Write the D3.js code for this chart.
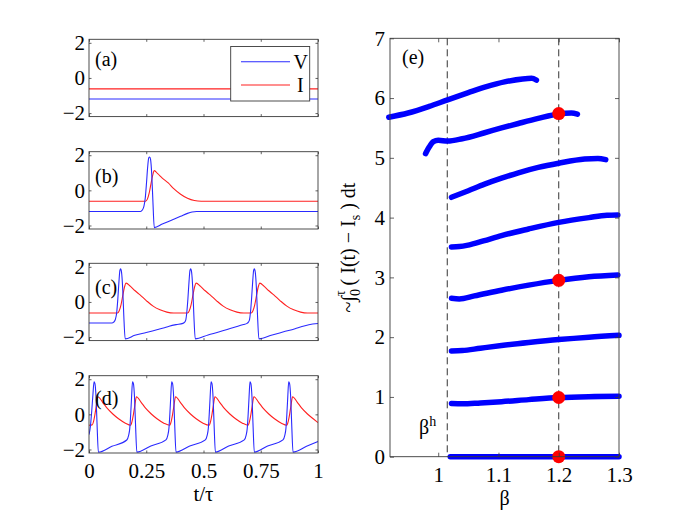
<!DOCTYPE html>
<html>
<head>
<meta charset="utf-8">
<script src="https://cdn.jsdelivr.net/npm/d3@7/dist/d3.min.js"></script>
<style>
  html, body { margin: 0; padding: 0; background: #fff; }
  svg { display: block; }
  svg text { font-family: "Liberation Serif", "Times New Roman", Tinos, "DejaVu Serif", serif !important; fill: #000; }
</style>
</head>
<body>
<svg id="chart" width="685" height="514"></svg>
<script>
// ---------------- DATA ----------------
// Left panels: time t/τ vs V (blue) and I (red)
const vA = [[0,-1.2],[1,-1.2]];
const iA = [[0,-0.62],[1,-0.62]];

const vB = [[0,-1.2],[0.225,-1.2],[0.233,-1.12],[0.240,-0.9],[0.246,-0.4],[0.251,0.4],[0.256,1.3],[0.261,1.85],[0.265,1.9],[0.269,1.75],[0.274,0.9],[0.279,-0.6],[0.285,-2.12],[0.32,-1.92],[0.36,-1.7],[0.40,-1.48],[0.43,-1.31],[0.45,-1.23],[0.47,-1.2],[1,-1.2]];
const iB = [[0,-0.62],[0.247,-0.62],[0.255,-0.5],[0.263,-0.15],[0.271,0.4],[0.278,0.85],[0.285,1.12],[0.30,0.95],[0.32,0.7],[0.346,0.42],[0.37,0.1],[0.40,-0.22],[0.43,-0.45],[0.46,-0.58],[0.49,-0.62],[1,-0.62]];

const vC = [[0,-1.2],[0.10,-1.2],[0.108,-1.15],[0.115,-1.0],[0.121,-0.6],[0.126,0.2],[0.131,1.2],[0.135,1.8],[0.138,1.88],[0.142,1.7],[0.147,0.8],[0.152,-0.8],[0.158,-2.1],
  [0.20,-1.9],[0.25,-1.74],[0.30,-1.57],[0.325,-1.48],[0.35,-1.38],[0.38,-1.29],[0.41,-1.22],
  [0.418,-1.15],[0.423,-1.0],[0.427,-0.6],[0.432,0.2],[0.437,1.2],[0.441,1.8],[0.444,1.88],[0.448,1.7],[0.453,0.8],[0.458,-0.8],[0.464,-2.1],
  [0.52,-1.88],[0.57,-1.7],[0.62,-1.5],[0.65,-1.38],[0.675,-1.28],[0.69,-1.22],
  [0.696,-1.15],[0.701,-1.0],[0.705,-0.6],[0.710,0.2],[0.715,1.2],[0.719,1.8],[0.722,1.88],[0.726,1.7],[0.731,0.8],[0.736,-0.8],[0.742,-2.1],
  [0.80,-1.88],[0.85,-1.7],[0.90,-1.52],[0.93,-1.4],[0.96,-1.3],[1,-1.23]];
const iC = [[0,-0.63],[0.124,-0.63],[0.132,-0.5],[0.140,-0.15],[0.148,0.4],[0.155,0.85],[0.162,1.07],[0.18,0.9],[0.20,0.65],[0.223,0.4],[0.25,0.08],[0.28,-0.24],[0.31,-0.45],[0.34,-0.58],[0.37,-0.63],
  [0.43,-0.63],[0.438,-0.5],[0.446,-0.15],[0.454,0.4],[0.461,0.85],[0.468,1.07],[0.486,0.9],[0.506,0.65],[0.529,0.4],[0.556,0.08],[0.586,-0.24],[0.616,-0.45],[0.646,-0.58],[0.676,-0.63],
  [0.708,-0.63],[0.716,-0.5],[0.724,-0.15],[0.732,0.4],[0.739,0.85],[0.746,1.07],[0.764,0.9],[0.784,0.65],[0.807,0.4],[0.834,0.08],[0.864,-0.24],[0.894,-0.45],[0.924,-0.58],[0.954,-0.63],[1,-0.63]];

const vD = [[0,-1.15],[0.006,-0.7],[0.012,0.2],[0.017,1.1],[0.022,1.85],[0.026,1.75],[0.031,0.9],[0.035,-0.5],[0.041,-2.15],[0.10,-1.82],
  [0.165,-1.46],[0.173,-1.2],[0.178,-0.8],[0.182,0],[0.186,1.0],[0.190,1.85],[0.194,1.75],[0.199,0.9],[0.203,-0.5],[0.209,-2.15],[0.27,-1.8],
  [0.336,-1.45],[0.344,-1.2],[0.349,-0.8],[0.353,0],[0.357,1.0],[0.361,1.85],[0.365,1.75],[0.370,0.9],[0.374,-0.5],[0.380,-2.15],[0.44,-1.8],
  [0.508,-1.45],[0.516,-1.2],[0.521,-0.8],[0.525,0],[0.529,1.0],[0.533,1.85],[0.537,1.75],[0.542,0.9],[0.546,-0.5],[0.552,-2.15],[0.61,-1.8],
  [0.678,-1.45],[0.686,-1.2],[0.691,-0.8],[0.695,0],[0.699,1.0],[0.703,1.85],[0.707,1.75],[0.712,0.9],[0.716,-0.5],[0.722,-2.15],[0.78,-1.8],
  [0.847,-1.45],[0.855,-1.2],[0.860,-0.8],[0.864,0],[0.868,1.0],[0.872,1.85],[0.876,1.75],[0.881,0.9],[0.885,-0.5],[0.891,-2.15],[0.95,-1.82],[1,-1.55]];
const iD = [[0,-0.62],[0.014,-0.6],[0.020,-0.4],[0.026,0],[0.032,0.5],[0.039,1.0],[0.059,0.7],[0.079,0.35],[0.104,0.02],[0.129,-0.25],[0.159,-0.5],[0.182,-0.62],
  [0.188,-0.4],[0.194,0],[0.200,0.5],[0.207,1.0],[0.227,0.7],[0.247,0.35],[0.272,0.02],[0.297,-0.25],[0.327,-0.5],[0.353,-0.62],
  [0.359,-0.4],[0.365,0],[0.371,0.5],[0.378,1.0],[0.398,0.7],[0.418,0.35],[0.443,0.02],[0.468,-0.25],[0.498,-0.5],[0.525,-0.62],
  [0.531,-0.4],[0.537,0],[0.543,0.5],[0.550,1.0],[0.570,0.7],[0.590,0.35],[0.615,0.02],[0.640,-0.25],[0.670,-0.5],[0.695,-0.62],
  [0.701,-0.4],[0.707,0],[0.713,0.5],[0.720,1.0],[0.740,0.7],[0.760,0.35],[0.785,0.02],[0.810,-0.25],[0.840,-0.5],[0.864,-0.62],
  [0.870,-0.4],[0.876,0],[0.882,0.5],[0.889,1.0],[0.909,0.7],[0.929,0.35],[0.954,0.02],[0.979,-0.25],[1,-0.47]];

const panelLabels = ["(a)", "(b)", "(c)", "(d)"];
const leftXTicks = [0, 0.25, 0.5, 0.75, 1];
const leftXTickLabels = ["0", "0.25", "0.5", "0.75", "1"];
const leftYTicks = [-2, 0, 2];
const legendNames = ["V", "I"];

// Right panel (e): β vs ~∫(I(t) − I_s)dt, branches
const branch0 = [[1.02,0],[1.1,0],[1.2,0],[1.3,0]];
const branch1 = [[1.022,0.89],[1.04,0.885],[1.07,0.9],[1.105,0.92],[1.15,0.955],[1.2,0.99],[1.25,1.005],[1.3,1.01]];
const branch2 = [[1.022,1.77],[1.04,1.775],[1.07,1.815],[1.105,1.86],[1.15,1.91],[1.2,1.96],[1.25,2.0],[1.3,2.03]];
const branch3 = [[1.022,2.65],[1.035,2.64],[1.06,2.69],[1.105,2.785],[1.15,2.87],[1.2,2.95],[1.25,3.01],[1.298,3.04]];
const branch4 = [[1.022,3.51],[1.035,3.515],[1.05,3.54],[1.075,3.61],[1.105,3.70],[1.15,3.81],[1.2,3.92],[1.25,4.0],[1.28,4.04],[1.298,4.045]];
const branch5 = [[1.022,4.34],[1.05,4.45],[1.077,4.56],[1.105,4.66],[1.133,4.75],[1.166,4.84],[1.2,4.91],[1.243,4.98],[1.265,4.99],[1.278,4.97]];
const branch6 = [[0.979,5.07],[0.985,5.18],[0.992,5.27],[1.0,5.295],[1.0156,5.28],[1.04,5.32],[1.077,5.42],[1.105,5.5],[1.133,5.575],[1.166,5.66],[1.2,5.735],[1.221,5.75],[1.231,5.73]];
const branch7 = [[0.918,5.68],[0.95,5.75],[0.985,5.86],[1.0156,5.97],[1.05,6.09],[1.08,6.19],[1.11,6.27],[1.14,6.32],[1.155,6.33],[1.163,6.3]];
const redDots = [[1.2,0],[1.2,0.99],[1.2,2.95],[1.2,5.74]];
const dashedBetas = [1.015, 1.2];
const rightXTicks = [1, 1.1, 1.2, 1.3];
const rightYTicks = [0,1,2,3,4,5,6,7];

// ---------------- DRAW ----------------
const SERIF = '"Liberation Serif", "Times New Roman", Tinos, "DejaVu Serif", serif';
const svg = d3.select("#chart");
svg.append("rect").attr("width",685).attr("height",514).attr("fill","#fff");
const axisColor = "#3a3a3a";
const FONT = 21;
const LFONT = 20;

function styleAxis(g) {
  g.attr("font-family", SERIF);
  g.select(".domain").remove();
  g.selectAll(".tick line").attr("stroke", axisColor).attr("stroke-width", 0.8);
  g.selectAll(".tick text").attr("font-size", FONT).style("font-family", SERIF).attr("fill", "#000");
}

function drawFrame(x, y, xTicks, yTicks, tickLen, opts) {
  const [x0, x1] = x.range();
  const [y0, y1] = y.range();
  const g = svg.append("g");
  const bAx = d3.axisBottom(x).tickValues(xTicks).tickSizeInner(-tickLen).tickSizeOuter(0).tickPadding(opts.xPad);
  if (opts.xLabels) bAx.tickFormat((d,i) => opts.xLabels[i]); else bAx.tickFormat("");
  g.append("g").attr("transform", `translate(0,${y0})`).call(bAx).call(styleAxis);
  g.append("g").attr("transform", `translate(0,${y1})`)
    .call(d3.axisTop(x).tickValues(xTicks).tickSizeInner(-tickLen).tickSizeOuter(0).tickFormat(""))
    .call(styleAxis);
  g.append("g").attr("transform", `translate(${x0},0)`)
    .call(d3.axisLeft(y).tickValues(yTicks).tickSizeInner(-tickLen).tickSizeOuter(0).tickPadding(opts.yPad).tickFormat(d3.format("d")))
    .call(styleAxis);
  g.append("g").attr("transform", `translate(${x1},0)`)
    .call(d3.axisRight(y).tickValues(yTicks).tickSizeInner(-tickLen).tickSizeOuter(0).tickFormat(""))
    .call(styleAxis);
  g.append("rect").attr("x", x0).attr("y", y1).attr("width", x1 - x0).attr("height", y0 - y1)
    .attr("fill", "none").attr("stroke", axisColor).attr("stroke-width", 0.9);
}

function addText(x, y, str, size, anchor) {
  return svg.append("text").attr("x", x).attr("y", y).attr("font-size", size)
    .attr("text-anchor", anchor || "start").style("font-family", SERIF).text(str);
}

// Left panels
const lx = d3.scaleLinear().domain([0, 1]).range([89, 318]);
const panelTops = [39.3, 151.7, 263.3, 375.7];
const panelH = 77.3;
const leftSeries = [[vA, iA], [vB, iB], [vC, iC], [vD, iD]];
const labelBaselines = [66, 182.5, 294, 405];

leftSeries.forEach(([vs, is], k) => {
  const top = panelTops[k];
  const ly = d3.scaleLinear().domain([-2.2, 2.2]).range([top + panelH, top]);
  const line = d3.line().x(d => lx(d[0])).y(d => ly(d[1])).curve(d3.curveMonotoneX);
  const clipId = "clip" + k;
  svg.append("clipPath").attr("id", clipId).append("rect")
    .attr("x", 89).attr("y", top).attr("width", 229).attr("height", panelH);
  const pg = svg.append("g").attr("clip-path", `url(#${clipId})`);
  pg.append("path").datum(is).attr("d", line).attr("fill", "none").attr("stroke", "#ff2020").attr("stroke-width", 1.1);
  pg.append("path").datum(vs).attr("d", line).attr("fill", "none").attr("stroke", "#2a2aff").attr("stroke-width", 1.1);
  drawFrame(lx, ly, leftXTicks, leftYTicks, 2.5, {
    xPad: 10.5, yPad: 4, xLabels: k === 3 ? leftXTickLabels : null
  });
  addText(95, labelBaselines[k], panelLabels[k], LFONT);
});

// Legend in (a)
const leg = svg.append("g");
leg.append("rect").attr("x", 230.7).attr("y", 46.5).attr("width", 79).attr("height", 54.5)
  .attr("fill", "#fff").attr("stroke", axisColor).attr("stroke-width", 0.9);
const legColors = ["#2a2aff", "#ff2020"];
const legY = [61.7, 85];
legendNames.forEach((n, i) => {
  leg.append("line").attr("x1", 241).attr("x2", 290).attr("y1", legY[i]).attr("y2", legY[i])
    .attr("stroke", legColors[i]).attr("stroke-width", 1.1);
  addText(i === 0 ? 293.5 : 297, legY[i] + 7, n, LFONT);
});

addText(203.5, 501, "t/τ", FONT, "middle");

// Right panel (e)
const rx = d3.scaleLinear().domain([0.92, 1.3]).range([390, 619]);
const ry = d3.scaleLinear().domain([0, 7]).range([456.7, 38.3]);

dashedBetas.forEach(b => {
  svg.append("line").attr("x1", rx(b)).attr("x2", rx(b)).attr("y1", ry(7)).attr("y2", ry(0))
    .attr("stroke", "#333").attr("stroke-width", 1).attr("stroke-dasharray", "7,4");
});

const bLine = d3.line().x(d => rx(d[0])).y(d => ry(d[1])).curve(d3.curveMonotoneX);
[branch0, branch1, branch2, branch3, branch4, branch5, branch6, branch7].forEach(br => {
  svg.append("path").datum(br).attr("d", bLine).attr("fill", "none").attr("stroke", "#0000ff")
    .attr("stroke-width", 5.5).attr("stroke-linecap", "round").attr("stroke-linejoin", "round");
});
svg.selectAll("circle.red").data(redDots).enter().append("circle").attr("class", "red")
  .attr("cx", d => rx(d[0])).attr("cy", d => ry(d[1])).attr("r", 6.5).attr("fill", "#ff0000");

drawFrame(rx, ry, rightXTicks, rightYTicks, 4, {
  xPad: 10, yPad: 5, xLabels: rightXTicks.map(d => String(d))
});

addText(402, 64, "(e)", LFONT);

const bh = addText(419, 434, "", LFONT);
bh.append("tspan").text("β");
bh.append("tspan").attr("dy", -8).attr("font-size", 14).text("h");

addText(504.5, 505, "β", LFONT, "middle");

const yl = svg.append("text").attr("transform", "translate(355,247.5) rotate(-90)")
  .attr("text-anchor", "middle").attr("font-size", LFONT).style("font-family", SERIF);
yl.append("tspan").text("~∫");
yl.append("tspan").attr("dy", 5).attr("font-size", 14).text("0");
yl.append("tspan").attr("dx", -7).attr("dy", -15).attr("font-size", 14).text("τ");
yl.append("tspan").attr("dy", 10).text(" ( I(t) − I");
yl.append("tspan").attr("dy", 5).attr("font-size", 14).text("s");
yl.append("tspan").attr("dy", -5).text(" ) dt");
</script>
</body>
</html>
